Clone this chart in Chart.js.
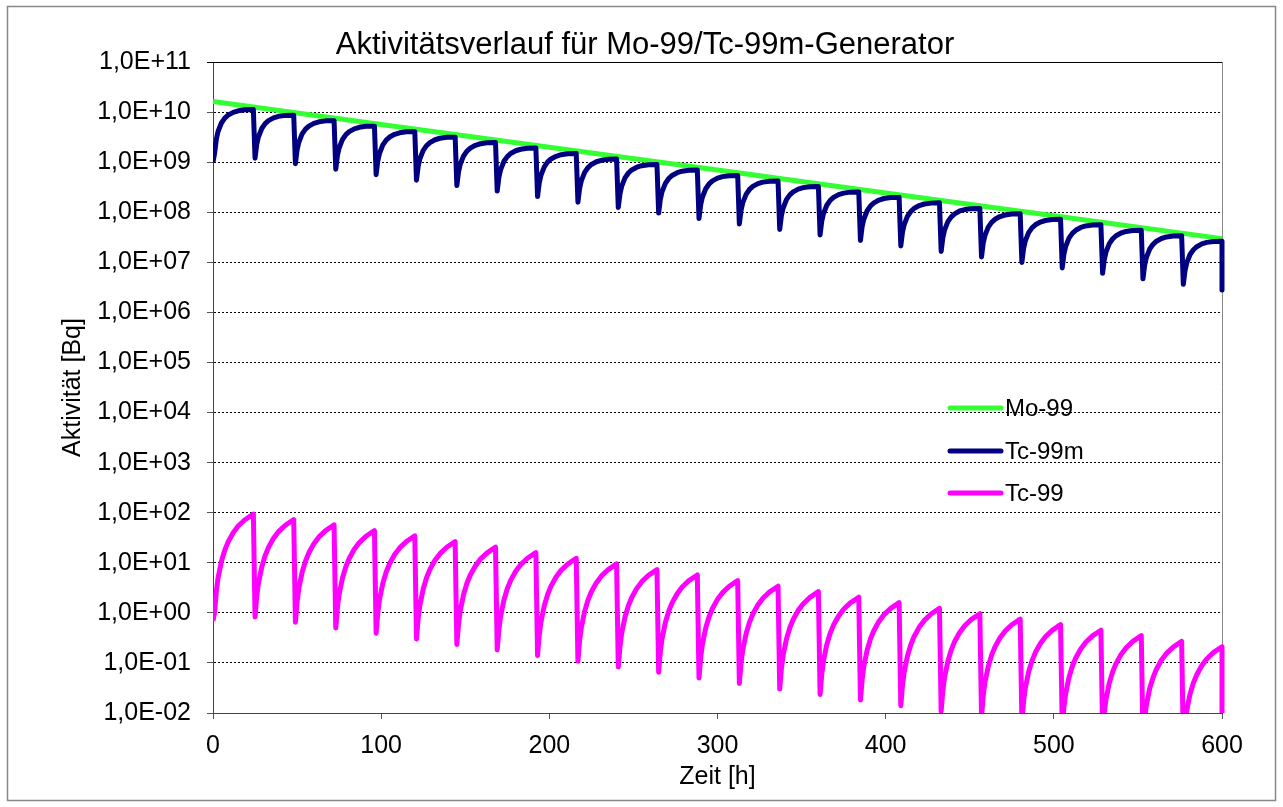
<!DOCTYPE html>
<html>
<head>
<meta charset="utf-8">
<title>Aktivitätsverlauf für Mo-99/Tc-99m-Generator</title>
<script src="https://cdn.jsdelivr.net/npm/chart.js@4/dist/chart.umd.min.js"></script>
<style>
  html, body { margin: 0; padding: 0; background: #fff; }
  #wrap { width: 1283px; height: 807px; }
</style>
</head>
<body>
<div id="wrap"><canvas id="chart" width="1283" height="807"></canvas></div>
<script>
const chartTitle = "Aktivitätsverlauf für Mo-99/Tc-99m-Generator"
const xTitle = "Zeit [h]"
const yTitle = "Aktivität [Bq]"

// hours after each elution at which values were read (elution every 24 h)
const elutionEvery = 24
const cycleHours = [1, 2, 3, 5, 7, 9, 12, 15, 19, 24]

const xTicks = [0, 100, 200, 300, 400, 500, 600]
const yTicks = [1e-2, 1e-1, 1e0, 1e1, 1e2, 1e3, 1e4, 1e5, 1e6, 1e7, 1e8, 1e9, 1e10, 1e11]
const yTickLabels = ["1,0E-02", "1,0E-01", "1,0E+00", "1,0E+01", "1,0E+02", "1,0E+03", "1,0E+04",
  "1,0E+05", "1,0E+06", "1,0E+07", "1,0E+08", "1,0E+09", "1,0E+10", "1,0E+11"]

const seriesNames = ["Mo-99", "Tc-99m", "Tc-99"]

// Mo-99 [Bq]
const moHours = [0, 100, 200, 300, 400, 500, 600]
const mo99 = [1.62e10, 5.67e9, 1.98e9, 6.94e8, 2.43e8, 8.49e7, 2.97e7]

// Tc-99m [Bq]: value at t=0, one row per 24 h cycle, value right after the last elution
const tc99mStart = 1.0e9
const tc99mCycles = [
  [1.54e9, 2.90e9, 4.09e9, 6.05e9, 7.55e9, 8.68e9, 9.86e9, 1.06e10, 1.11e10, 1.12e10],
  [1.20e9, 2.25e9, 3.18e9, 4.70e9, 5.87e9, 6.75e9, 7.66e9, 8.22e9, 8.59e9, 8.67e9],
  [9.31e8, 1.75e9, 2.47e9, 3.66e9, 4.56e9, 5.25e9, 5.96e9, 6.39e9, 6.68e9, 6.74e9],
  [7.23e8, 1.36e9, 1.92e9, 2.84e9, 3.55e9, 4.08e9, 4.63e9, 4.97e9, 5.19e9, 5.24e9],
  [5.62e8, 1.06e9, 1.49e9, 2.21e9, 2.76e9, 3.17e9, 3.60e9, 3.86e9, 4.03e9, 4.07e9],
  [4.37e8, 8.21e8, 1.16e9, 1.72e9, 2.14e9, 2.46e9, 2.80e9, 3.00e9, 3.13e9, 3.16e9],
  [3.40e8, 6.38e8, 9.01e8, 1.33e9, 1.66e9, 1.91e9, 2.17e9, 2.33e9, 2.44e9, 2.46e9],
  [2.64e8, 4.96e8, 7.00e8, 1.04e9, 1.29e9, 1.49e9, 1.69e9, 1.81e9, 1.89e9, 1.91e9],
  [2.05e8, 3.85e8, 5.44e8, 8.05e8, 1.01e9, 1.16e9, 1.31e9, 1.41e9, 1.47e9, 1.49e9],
  [1.59e8, 3.00e8, 4.23e8, 6.26e8, 7.81e8, 8.99e8, 1.02e9, 1.09e9, 1.14e9, 1.15e9],
  [1.24e8, 2.33e8, 3.29e8, 4.86e8, 6.07e8, 6.98e8, 7.93e8, 8.50e8, 8.88e8, 8.97e8],
  [9.62e7, 1.81e8, 2.55e8, 3.78e8, 4.72e8, 5.43e8, 6.16e8, 6.61e8, 6.90e8, 6.97e8],
  [7.48e7, 1.41e8, 1.99e8, 2.94e8, 3.67e8, 4.22e8, 4.79e8, 5.14e8, 5.37e8, 5.42e8],
  [5.81e7, 1.09e8, 1.54e8, 2.28e8, 2.85e8, 3.28e8, 3.72e8, 3.99e8, 4.17e8, 4.21e8],
  [4.52e7, 8.50e7, 1.20e8, 1.78e8, 2.22e8, 2.55e8, 2.89e8, 3.10e8, 3.24e8, 3.27e8],
  [3.51e7, 6.60e7, 9.32e7, 1.38e8, 1.72e8, 1.98e8, 2.25e8, 2.41e8, 2.52e8, 2.54e8],
  [2.73e7, 5.13e7, 7.25e7, 1.07e8, 1.34e8, 1.54e8, 1.75e8, 1.88e8, 1.96e8, 1.98e8],
  [2.12e7, 3.99e7, 5.63e7, 8.33e7, 1.04e8, 1.20e8, 1.36e8, 1.46e8, 1.52e8, 1.54e8],
  [1.65e7, 3.10e7, 4.38e7, 6.48e7, 8.08e7, 9.30e7, 1.06e8, 1.13e8, 1.18e8, 1.19e8],
  [1.28e7, 2.41e7, 3.40e7, 5.04e7, 6.28e7, 7.23e7, 8.21e7, 8.80e7, 9.20e7, 9.29e7],
  [9.96e6, 1.87e7, 2.64e7, 3.91e7, 4.88e7, 5.61e7, 6.37e7, 6.84e7, 7.14e7, 7.21e7],
  [7.74e6, 1.46e7, 2.05e7, 3.04e7, 3.79e7, 4.36e7, 4.96e7, 5.32e7, 5.55e7, 5.61e7],
  [6.02e6, 1.13e7, 1.60e7, 2.36e7, 2.95e7, 3.39e7, 3.85e7, 4.13e7, 4.32e7, 4.36e7],
  [4.68e6, 8.79e6, 1.24e7, 1.84e7, 2.29e7, 2.64e7, 2.99e7, 3.21e7, 3.35e7, 3.39e7],
  [3.63e6, 6.83e6, 9.64e6, 1.43e7, 1.78e7, 2.05e7, 2.33e7, 2.50e7, 2.61e7, 2.63e7]
]
const tc99mEnd = 2.8e6

// Tc-99 [Bq]
const tc99Start = 0.69
const tc99Cycles = [
  [1.07, 2.73, 4.98, 10.6, 17.9, 26.1, 39.7, 54.1, 72.4, 94],
  [0.83, 2.12, 3.87, 8.25, 13.9, 20.3, 30.8, 42.0, 56.2, 73],
  [0.65, 1.65, 3.02, 6.44, 10.8, 15.8, 24.1, 32.8, 43.9, 57],
  [0.50, 1.28, 2.33, 4.97, 8.36, 12.2, 18.6, 25.3, 33.9, 44],
  [0.39, 1.00, 1.83, 3.90, 6.56, 9.59, 14.6, 19.8, 26.6, 34.5],
  [0.30, 0.77, 1.40, 2.99, 5.04, 7.37, 11.2, 15.2, 20.4, 26.5],
  [0.234, 0.59, 1.09, 2.32, 3.90, 5.70, 8.65, 11.8, 15.8, 20.5],
  [0.182, 0.46, 0.85, 1.81, 3.04, 4.45, 6.75, 9.2, 12.3, 16],
  [0.140, 0.357, 0.652, 1.39, 2.34, 3.42, 5.19, 7.07, 9.47, 12.3],
  [0.108, 0.276, 0.504, 1.07, 1.81, 2.64, 4.01, 5.46, 7.32, 9.5],
  [0.083, 0.212, 0.387, 0.825, 1.39, 2.03, 3.08, 4.20, 5.62, 7.3],
  [0.065, 0.165, 0.302, 0.644, 1.08, 1.58, 2.41, 3.28, 4.39, 5.7],
  [0.050, 0.128, 0.233, 0.497, 0.836, 1.22, 1.86, 2.53, 3.39, 4.4],
  [0.039, 0.099, 0.180, 0.384, 0.646, 0.945, 1.43, 1.96, 2.62, 3.4],
  [0.030, 0.077, 0.140, 0.299, 0.504, 0.737, 1.12, 1.52, 2.04, 2.65],
  [0.0234, 0.059, 0.109, 0.232, 0.390, 0.570, 0.865, 1.18, 1.58, 2.05],
  [0.0182, 0.046, 0.085, 0.181, 0.304, 0.445, 0.675, 0.92, 1.23, 1.6],
  [0.0140, 0.036, 0.065, 0.139, 0.234, 0.342, 0.519, 0.707, 0.947, 1.23],
  [0.0109, 0.028, 0.051, 0.108, 0.182, 0.267, 0.405, 0.552, 0.739, 0.96],
  [0.0086, 0.0218, 0.040, 0.085, 0.143, 0.209, 0.317, 0.431, 0.578, 0.75],
  [0.0066, 0.0168, 0.031, 0.066, 0.110, 0.161, 0.245, 0.334, 0.447, 0.58],
  [0.0051, 0.0131, 0.024, 0.051, 0.086, 0.125, 0.190, 0.259, 0.347, 0.45],
  [0.0040, 0.0102, 0.0186, 0.040, 0.067, 0.097, 0.148, 0.201, 0.270, 0.35],
  [0.0031, 0.0078, 0.0143, 0.031, 0.051, 0.075, 0.114, 0.155, 0.208, 0.27],
  [0.0024, 0.0061, 0.0111, 0.024, 0.040, 0.058, 0.089, 0.121, 0.162, 0.21]
]
const tc99End = 0.0019

const colors = ["#33ff33", "#000080", "#ff00ff"]

function cyclePoints(start, cycles, end) {
  const pts = [{ x: 0, y: start }]
  cycles.forEach((row, k) => {
    row.forEach((v, i) => pts.push({ x: k * elutionEvery + cycleHours[i], y: v }))
  })
  // last elution: straight drop at the end of the axis
  pts.push({ x: cycles.length * elutionEvery, y: end })
  return pts
}

const fontFamily = "'Liberation Sans', Arial, sans-serif"
Chart.defaults.font.family = fontFamily
Chart.defaults.color = "#000"

const frame = {
  id: "frame",
  beforeDraw(chart) {
    const ctx = chart.ctx
    ctx.save()
    ctx.fillStyle = "#fff"
    ctx.fillRect(0, 0, chart.width, chart.height)
    ctx.strokeStyle = "#888"
    ctx.lineWidth = 1.5
    ctx.strokeRect(7.5, 6.5, 1268, 794)
    ctx.fillStyle = "#000"
    ctx.font = "31px " + fontFamily
    ctx.textAlign = "center"
    ctx.textBaseline = "middle"
    ctx.fillText(chartTitle, 645, 45)
    ctx.restore()
  },
  beforeDatasetsDraw(chart) {
    const { ctx, chartArea: a } = chart
    ctx.save()
    ctx.lineWidth = 1
    ctx.strokeStyle = "#000"
    ctx.beginPath()
    ctx.moveTo(a.left - 6, a.top + 0.5)
    ctx.lineTo(a.right, a.top + 0.5)
    ctx.stroke()
    ctx.strokeStyle = "#888"
    ctx.beginPath()
    ctx.moveTo(a.right + 0.5, a.top)
    ctx.lineTo(a.right + 0.5, a.bottom)
    ctx.stroke()
    ctx.restore()
  }
}

// legend sits inside the plot area, right of centre
const insideLegend = {
  id: "insideLegend",
  afterDraw(chart) {
    const ctx = chart.ctx
    const rows = [408, 451, 493]
    ctx.save()
    ctx.font = "24px " + fontFamily
    ctx.textBaseline = "middle"
    ctx.lineCap = "round"
    chart.data.datasets.forEach((ds, i) => {
      ctx.strokeStyle = ds.borderColor
      ctx.lineWidth = 5
      ctx.beginPath()
      ctx.moveTo(950, rows[i])
      ctx.lineTo(1001, rows[i])
      ctx.stroke()
      ctx.fillStyle = "#000"
      ctx.fillText(ds.label, 1005, rows[i] + 1)
    })
    ctx.restore()
  }
}

const lineStyle = {
  pointRadius: 0,
  borderWidth: 5,
  fill: false,
  tension: 0,
  borderJoinStyle: "round",
  borderCapStyle: "butt",
  clip: { left: 0, top: 0, right: 3, bottom: 0 }
}

new Chart(document.getElementById("chart"), {
  type: "line",
  data: {
    datasets: [
      { ...lineStyle, label: seriesNames[0], order: 3, borderColor: colors[0],
        data: moHours.map((h, i) => ({ x: h, y: mo99[i] })) },
      { ...lineStyle, label: seriesNames[1], order: 2, borderColor: colors[1],
        data: cyclePoints(tc99mStart, tc99mCycles, tc99mEnd) },
      { ...lineStyle, label: seriesNames[2], order: 1, borderColor: colors[2],
        data: cyclePoints(tc99Start, tc99Cycles, tc99End) }
    ]
  },
  options: {
    responsive: false,
    devicePixelRatio: 1,
    animation: false,
    layout: { padding: { left: 0, right: 61, top: 62, bottom: 0 } },
    plugins: {
      legend: { display: false },
      tooltip: { enabled: false },
      title: { display: false }
    },
    scales: {
      x: {
        type: "linear",
        min: xTicks[0],
        max: xTicks[xTicks.length - 1],
        afterBuildTicks: (s) => { s.ticks = xTicks.map(v => ({ value: v })) },
        afterFit: (s) => { s.height = 94 },
        ticks: { font: { size: 25 }, color: "#000", padding: 12, maxRotation: 0 },
        grid: { drawOnChartArea: false, drawTicks: true, tickLength: 6, tickColor: "#555" },
        border: { color: "#444", width: 1 },
        title: { display: true, text: xTitle, font: { size: 25 }, color: "#000",
          padding: { top: 0, bottom: 15 } }
      },
      y: {
        type: "logarithmic",
        min: yTicks[0],
        max: yTicks[yTicks.length - 1],
        afterBuildTicks: (s) => { s.ticks = yTicks.map(v => ({ value: v })) },
        afterFit: (s) => { s.width = 213 },
        ticks: {
          autoSkip: false,
          font: { size: 25 },
          color: "#000",
          padding: 16,
          callback: (v, i) => yTickLabels[i]
        },
        grid: { color: "#000", lineWidth: 1, drawTicks: true, tickLength: 6, tickColor: "#555" },
        border: { color: "#444", width: 1, dash: [2, 2] },
        title: { display: true, text: yTitle, font: { size: 25 }, color: "#000",
          padding: { top: 58, bottom: 0 } }
      }
    }
  },
  plugins: [frame, insideLegend]
})
</script>
</body>
</html>
